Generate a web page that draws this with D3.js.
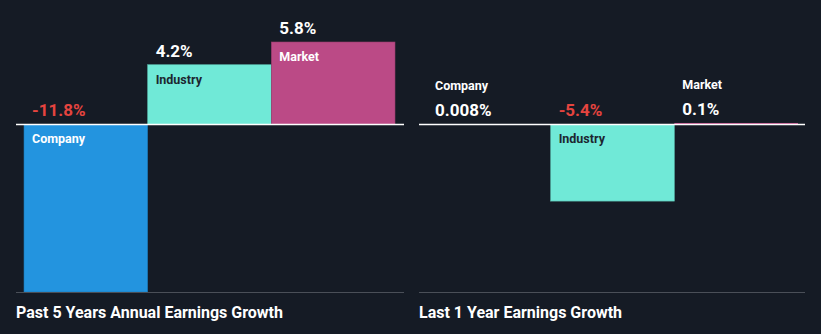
<!DOCTYPE html>
<html><head><meta charset="utf-8">
<script src="https://cdn.jsdelivr.net/npm/d3@7"></script>
<style>
html,body{margin:0;padding:0;background:#151b25;}
svg{display:block;font-family:Roboto,"Noto Sans",sans-serif;}
</style></head>
<body>
<svg id="c" width="821" height="334"></svg>
<script>
const categories = ["Company", "Industry", "Market"];
const past5Values = [-11.8, 4.2, 5.8];
const past5Labels = ["-11.8%", "4.2%", "5.8%"];
const last1Values = [0.008, -5.4, 0.1];
const last1Labels = ["0.008%", "-5.4%", "0.1%"];
const titles = ["Past 5 Years Annual Earnings Growth", "Last 1 Year Earnings Growth"];
const colors = {Company: "#2394df", Industry: "#70e9d7", Market: "#bb4a86"};
const labelInk = {Company: "#ffffff", Industry: "#1c2630", Market: "#ffffff"};

const svg = d3.select("#c");
const y = d3.scaleLinear().domain([-11.8, 5.8]).range([292, 42]);

const panels = [
  {x0: 16, x1: 404, bx: 24, values: past5Values, labels: past5Labels, title: titles[0]},
  {x0: 419, x1: 805, bx: 427, values: last1Values, labels: last1Labels, title: titles[1]}
];

panels.forEach(p => {
  const g = svg.append("g");
  const x = d3.scaleBand().domain(categories).range([p.bx, p.bx + 371]).padding(0);
  const data = categories.map((c, i) => ({c, v: p.values[i], l: p.labels[i]}));

  g.selectAll("rect").data(data).enter().append("rect")
    .attr("x", d => x(d.c))
    .attr("width", x.bandwidth())
    .attr("y", d => Math.min(y(d.v), y(0)))
    .attr("height", d => Math.abs(y(d.v) - y(0)))
    .attr("fill", d => colors[d.c])
    .attr("stroke", d => d3.color(colors[d.c]).darker(0.6))
    .attr("stroke-width", d => Math.abs(y(d.v) - y(0)) > 3 ? 0.6 : 0);

  // zero line
  g.append("line").attr("x1", p.x0).attr("x2", p.x1).attr("y1", y(0)).attr("y2", y(0))
    .attr("stroke", "#ffffff").attr("stroke-width", 1.5);
  // bottom line
  g.append("line").attr("x1", p.x0).attr("x2", p.x1).attr("y1", 292.5).attr("y2", 292.5)
    .attr("stroke", "#4a4f58").attr("stroke-width", 1);

  data.forEach(d => {
    const h = Math.abs(y(d.v) - y(0));
    const tx = x(d.c) + 8;
    if (h > 25) {
      // category label inside bar
      const top = Math.min(y(d.v), y(0));
      g.append("text").attr("x", tx).attr("y", top + 19)
        .attr("font-size", 12.5).attr("font-weight", "bold")
        .attr("fill", labelInk[d.c]).text(d.c);
      // value label above
      const vy = d.v >= 0 ? y(d.v) - 8 : y(0) - 8;
      g.append("text").attr("x", tx).attr("y", vy)
        .attr("font-size", 17).attr("font-weight", "bold")
        .attr("fill", d.v >= 0 ? "#ffffff" : "#e5443f").text(d.l);
    } else {
      g.append("text").attr("x", tx).attr("y", y(d.v) - 34)
        .attr("font-size", 12.5).attr("font-weight", "bold")
        .attr("fill", "#ffffff").text(d.c);
      g.append("text").attr("x", tx).attr("y", y(d.v) - 8)
        .attr("font-size", 17).attr("font-weight", "bold")
        .attr("fill", "#ffffff").text(d.l);
    }
  });

  g.append("text").attr("x", p.x0).attr("y", 318)
    .attr("font-size", 16).attr("font-weight", "bold")
    .attr("fill", "#ffffff").text(p.title);
});
</script>
</body></html>
